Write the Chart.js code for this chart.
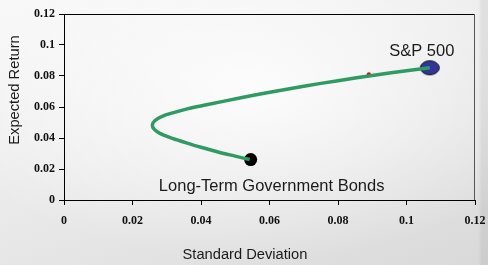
<!DOCTYPE html>
<html>
<head>
<meta charset="utf-8">
<script src="https://cdn.jsdelivr.net/npm/chart.js@4"></script>
<style>
  html, body { margin: 0; padding: 0; }
  body {
    width: 488px; height: 265px; overflow: hidden;
    background:
      linear-gradient(90deg, rgba(0,0,0,0) 478px, rgba(0,0,0,0.06) 482px),
      radial-gradient(ellipse 320px 170px at 250px 90px, rgba(255,255,255,0.85), rgba(255,255,255,0) 100%),
      linear-gradient(160deg, #f8f8f8 0%, #ebebeb 45%, #d9d9d9 100%);
  }
  #wrap { position: relative; width: 488px; height: 265px; }
</style>
</head>
<body>
<div id="wrap"><canvas id="frontierChart" width="488" height="265"></canvas></div>
<script>
// efficient frontier (std dev, expected return)
const curveSd  = [0.0542, 0.0500, 0.0450, 0.0400, 0.0350, 0.0310, 0.0280, 0.0263, 0.0258, 0.0265, 0.0285, 0.0320, 0.0360, 0.0416, 0.0513, 0.0601, 0.0700, 0.0800, 0.0900, 0.1000, 0.1068];
const curveRet = [0.0261, 0.0283, 0.0310, 0.0340, 0.0374, 0.0403, 0.0430, 0.0457, 0.0484, 0.0511, 0.0538, 0.0564, 0.0588, 0.0614, 0.0658, 0.0695, 0.0734, 0.0770, 0.0803, 0.0834, 0.0853];

const assetNames = ['Long-Term Government Bonds', 'S&P 500'];
const assetSd    = [0.0545, 0.1068];
const assetRet   = [0.0261, 0.0853];

const markSd  = [0.089];
const markRet = [0.081];

const tickValues = [0, 0.02, 0.04, 0.06, 0.08, 0.1, 0.12];

// blue ellipse marker for the S&P point
const ellipse = document.createElement('canvas');
ellipse.width = 22; ellipse.height = 17;
(() => {
    const c = ellipse.getContext('2d');
    c.beginPath();
    c.ellipse(11, 8.5, 9.5, 7, 0, 0, Math.PI * 2);
    c.fillStyle = '#333399';
    c.fill();
    c.lineWidth = 1;
    c.strokeStyle = '#111';
    c.stroke();
})();

const toXY = (xs, ys) => xs.map((x, i) => ({ x: x, y: ys[i] }));

const labelOffsets = [[21, 27], [-8, -16]];

const extras = {
    id: 'extras',
    beforeDatasetsDraw(chart) {
        const { ctx, chartArea: a } = chart;
        ctx.save();
        ctx.lineWidth = 1;
        ctx.strokeStyle = '#000';
        ctx.beginPath();
        ctx.moveTo(a.left, a.top + 0.5);
        ctx.lineTo(a.right, a.top + 0.5);
        ctx.stroke();
        ctx.strokeStyle = '#555';
        ctx.beginPath();
        ctx.moveTo(a.right - 0.5, a.top);
        ctx.lineTo(a.right - 0.5, a.bottom);
        ctx.stroke();
        ctx.restore();
    },
    afterDraw(chart) {
        const { ctx, scales: { x, y } } = chart;
        ctx.save();
        ctx.fillStyle = '#1a1a1a';
        ctx.font = '16.5px "Liberation Sans", Arial, sans-serif';
        ctx.textAlign = 'center';
        ctx.textBaseline = 'middle';
        assetNames.forEach((name, i) => {
            const px = x.getPixelForValue(assetSd[i]) + labelOffsets[i][0];
            const py = y.getPixelForValue(assetRet[i]) + labelOffsets[i][1];
            ctx.fillText(name, px, py);
        });
        ctx.font = '14.7px "Liberation Sans", Arial, sans-serif';
        ctx.fillText('Standard Deviation', 245, 255);
        ctx.translate(15, 90);
        ctx.rotate(-Math.PI / 2);
        ctx.fillText('Expected Return', 0, 0);
        ctx.restore();
    }
};

const tickFont = { family: '"Liberation Serif", "Times New Roman", serif', size: 12, weight: 'bold' };

new Chart(document.getElementById('frontierChart').getContext('2d'), {
    type: 'scatter',
    data: {
        datasets: [
            {
                data: toXY(curveSd, curveRet),
                showLine: true,
                borderColor: '#2f9a62',
                borderWidth: 3.5,
                tension: 0.35,
                pointRadius: 0
            },
            {
                data: toXY(markSd, markRet),
                pointRadius: 2.2,
                pointBackgroundColor: '#ff0000',
                pointBorderWidth: 0
            },
            {
                data: [{ x: assetSd[0], y: assetRet[0] }],
                pointRadius: 6.5,
                pointBackgroundColor: '#000',
                pointBorderWidth: 0
            },
            {
                data: [{ x: assetSd[1], y: assetRet[1] }],
                pointStyle: ellipse,
                pointBorderWidth: 0
            }
        ]
    },
    options: {
        responsive: false,
        animation: false,
        layout: { padding: { top: 14, right: 13, left: 0, bottom: 0 } },
        plugins: { legend: { display: false }, tooltip: { enabled: false } },
        scales: {
            x: {
                type: 'linear',
                min: 0, max: 0.12,
                afterBuildTicks: s => { s.ticks = tickValues.map(v => ({ value: v })); },
                afterFit: s => { s.height = 65; s.paddingLeft = 0; s.paddingRight = 0; },
                border: { color: '#000', width: 1 },
                grid: { drawOnChartArea: false, color: '#000', tickLength: 5 },
                ticks: {
                    autoSkip: false, maxRotation: 0, padding: 9,
                    color: '#111', font: tickFont,
                    callback: v => String(+v.toFixed(2))
                }
            },
            y: {
                type: 'linear',
                min: 0, max: 0.12,
                afterBuildTicks: s => { s.ticks = tickValues.map(v => ({ value: v })); },
                afterFit: s => { s.width = 64; s.paddingTop = 0; s.paddingBottom = 0; },
                border: { color: '#000', width: 1 },
                grid: { drawOnChartArea: false, color: '#000', tickLength: 5 },
                ticks: {
                    autoSkip: false, padding: 4,
                    color: '#111', font: tickFont,
                    callback: v => String(+v.toFixed(2))
                }
            }
        }
    },
    plugins: [extras]
});
</script>
</body>
</html>
